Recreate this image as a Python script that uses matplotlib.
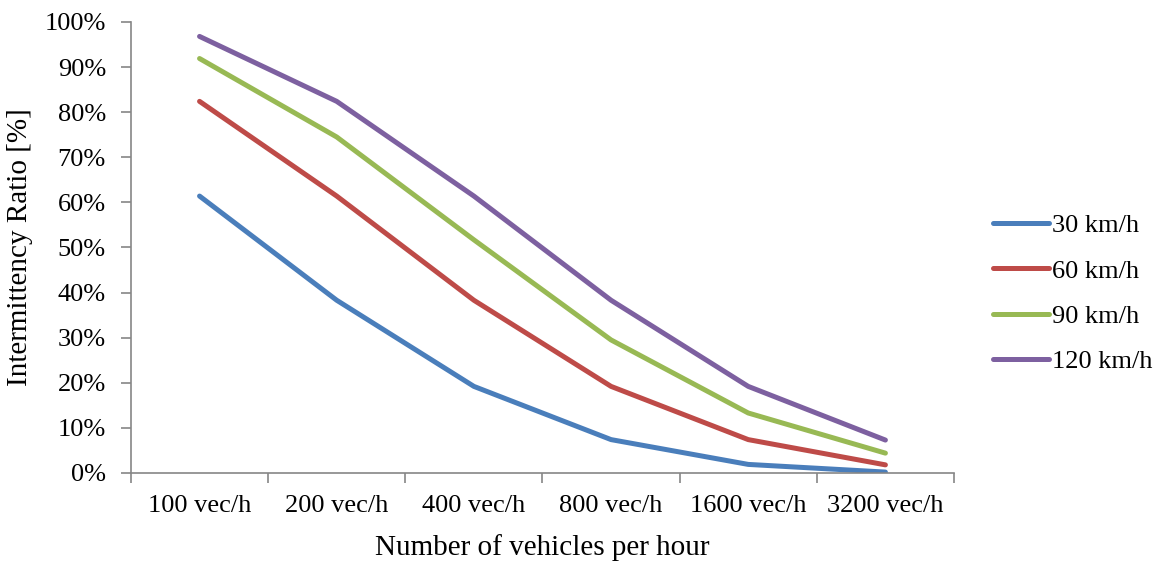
import matplotlib.pyplot as plt
import numpy as np

# Intermittency ratio vs traffic density for each vehicle speed
categories = ['100 vec/h', '200 vec/h', '400 vec/h', '800 vec/h', '1600 vec/h', '3200 vec/h']
speed_30 = [61.4, 38.3, 19.2, 7.4, 1.9, 0.2]
speed_60 = [82.4, 61.4, 38.3, 19.2, 7.4, 1.8]
speed_90 = [91.9, 74.5, 51.7, 29.5, 13.3, 4.4]
speed_120 = [96.8, 82.4, 61.4, 38.3, 19.2, 7.3]
series_labels = ['30 km/h', '60 km/h', '90 km/h', '120 km/h']
colors = ['#4A7EBB', '#BE4B48', '#98B954', '#7D60A0']

plt.rcParams['font.family'] = ['Liberation Serif', 'DejaVu Serif']

fig = plt.figure(figsize=(11.61, 5.61), dpi=100)
ax = fig.add_axes([0.1128, 0.1569, 0.7089, 0.8039])

x = np.arange(len(categories))
for vals, lab, c in zip([speed_30, speed_60, speed_90, speed_120], series_labels, colors):
    ax.plot(x, vals, color=c, linewidth=3.6, label=lab, solid_capstyle='round',
            solid_joinstyle='round')

ax.set_xlim(-0.5, len(categories) - 0.5)
ax.set_ylim(0, 100)
ax.set_yticks(np.arange(0, 101, 10))
ax.set_yticklabels([f'{v}%' for v in range(0, 101, 10)])
ax.set_xticks(x)
ax.set_xticklabels(categories)
ax.set_xticks(np.arange(-0.5, len(categories)), minor=True)
ax.tick_params(axis='x', which='major', length=0, pad=16, labelsize=19)
ax.tick_params(axis='x', which='minor', length=7, width=1.2, color='#868686')
ax.tick_params(axis='y', length=7, width=1.2, color='#868686', labelsize=19, pad=11)

for side in ['top', 'right']:
    ax.spines[side].set_visible(False)
for side in ['left', 'bottom']:
    ax.spines[side].set_color('#868686')
    ax.spines[side].set_linewidth(1.2)

ax.set_xlabel('Number of vehicles per hour', fontsize=21, labelpad=12)
ax.set_ylabel('Intermittency Ratio [%]', fontsize=21, labelpad=8)

ax.legend(loc='center left', bbox_to_anchor=(1.048, 0.398), frameon=False,
          borderpad=0, borderaxespad=0, fontsize=19, handlelength=2.1,
          handletextpad=0.1, labelspacing=0.83)

fig.savefig('out.png', dpi=100)
